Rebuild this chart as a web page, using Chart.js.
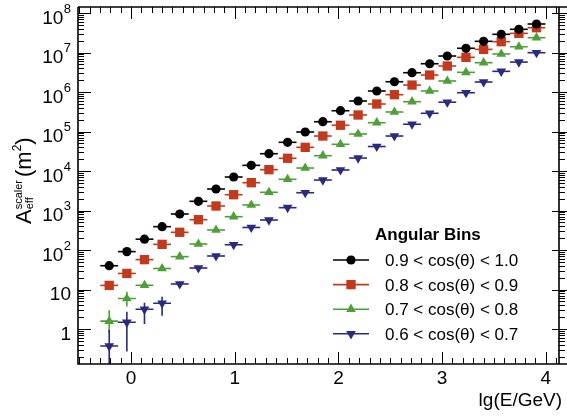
<!DOCTYPE html>
<html>
<head>
<meta charset="utf-8">
<script src="https://cdn.jsdelivr.net/npm/chart.js@4.4.1/dist/chart.umd.min.js"></script>
<style>
  html, body { margin: 0; padding: 0; background: #fff; }
  #wrap { width: 567px; height: 417px; }
</style>
</head>
<body>
<div id="wrap"><canvas id="myChart" width="567" height="417"></canvas></div>
<script>
// bin centres in lg(E/GeV)
const lgE = [-0.21, -0.04, 0.13, 0.30, 0.47, 0.65, 0.82, 0.99, 1.16, 1.33, 1.51, 1.68, 1.85,
  2.02, 2.19, 2.37, 2.54, 2.71, 2.88, 3.05, 3.23, 3.40, 3.57, 3.74, 3.91];
const binHalfWidth = 0.086;

// effective area (m^2) per angular bin
const bin1Vals = [40, 91, 188, 390, 815, 1710, 3500, 7050, 13900, 27400, 53300, 97100, 177000,
  336000, 592000, 1.06e6, 1.82e6, 3.08e6, 5.2e6, 8.15e6, 1.28e7, 1.92e7, 2.89e7, 3.87e7, 5.27e7];
const bin2Vals = [12.7, 25.5, 57, 139, 281, 585, 1300, 2510, 5060, 10800, 21000, 39800, 76900,
  144000, 262000, 497000, 855000, 1.5e6, 2.69e6, 4.55e6, 7.55e6, 1.2e7, 1.88e7, 3.06e7, 4.25e7];
const bin3Vals = [1.58, 5.9, 12.8, 34, 68, 142, 321, 697, 1380, 2890, 6170, 11900, 24400,
  47400, 86500, 167000, 312000, 568000, 1.06e6, 1.9e6, 3.15e6, 5.52e6, 9.17e6, 1.4e7, 2.37e7];
const bin4Vals = [0.37, 1.48, 3.15, 4.5, 13.8, 35, 70.5, 136, 372, 574, 1180, 2820, 5910,
  10600, 21300, 41700, 76900, 153000, 289000, 552000, 960000, 1.79e6, 3.34e6, 5.74e6, 9.89e6];

// vertical error bars (only visible at low energy)
const bin3ErrLow = [0.8, 3.7];
const bin3ErrHigh = [3.0, 8.8];
const bin4ErrLow = [0.05, 0.27, 1.34, 2.17];
const bin4ErrHigh = [0.94, 2.74, 4.6, 6.6];

const binLabels = ["0.9 < cos(\u03b8) < 1.0", "0.8 < cos(\u03b8) < 0.9",
  "0.7 < cos(\u03b8) < 0.8", "0.6 < cos(\u03b8) < 0.7"];
const legendTitle = "Angular Bins";

const xTickValues = [0, 1, 2, 3, 4];
const yTickExps = [0, 1, 2, 3, 4, 5, 6, 7, 8];

const FONT = "'Liberation Sans', Arial, Helvetica, sans-serif";

const series = [
  { vals: bin1Vals, color: "#000000", style: "circle", radius: 4.6, rotation: 0, lo: [], hi: [] },
  { vals: bin2Vals, color: "#c23a1e", style: "rect", radius: 6.6, rotation: 0, lo: [], hi: [] },
  { vals: bin3Vals, color: "#4f9e3a", style: "triangle", radius: 5.6, rotation: 0, lo: bin3ErrLow, hi: bin3ErrHigh },
  { vals: bin4Vals, color: "#2b2a7c", style: "triangle", radius: 5.6, rotation: 180, lo: bin4ErrLow, hi: bin4ErrHigh },
];

const errorBars = {
  id: "errorBars",
  beforeDatasetsDraw(chart) {
    const { ctx, chartArea: a, scales: { x, y } } = chart;
    ctx.save();
    ctx.beginPath();
    ctx.rect(a.left, a.top, a.right - a.left, a.bottom - a.top);
    ctx.clip();
    ctx.lineWidth = 1.6;
    series.forEach((s) => {
      ctx.strokeStyle = s.color;
      s.vals.forEach((v, j) => {
        const py = y.getPixelForValue(v);
        const px = x.getPixelForValue(lgE[j]);
        ctx.beginPath();
        ctx.moveTo(x.getPixelForValue(lgE[j] - binHalfWidth), py);
        ctx.lineTo(x.getPixelForValue(lgE[j] + binHalfWidth), py);
        if (s.lo[j] != null) {
          ctx.moveTo(px, y.getPixelForValue(s.lo[j]));
          ctx.lineTo(px, y.getPixelForValue(s.hi[j]));
        }
        ctx.stroke();
      });
    });
    ctx.restore();
  },
};

const frame = {
  id: "frame",
  afterDatasetsDraw(chart) {
    const { ctx, chartArea: a, scales: { x, y } } = chart;
    ctx.save();
    ctx.strokeStyle = "#000";
    ctx.fillStyle = "#000";

    // box
    ctx.lineWidth = 1.6;
    ctx.beginPath();
    ctx.moveTo(a.left, a.top);
    ctx.lineTo(a.left, a.bottom);
    ctx.lineTo(567, a.bottom);
    ctx.moveTo(a.left, a.top);
    ctx.lineTo(567, a.top);
    ctx.moveTo(a.right, a.top);
    ctx.lineTo(a.right, a.bottom);
    ctx.stroke();

    // x ticks (bottom and top, inside)
    ctx.lineWidth = 1;
    ctx.beginPath();
    for (let i = -5; i <= 45; i++) {
      const v = i / 10;
      const px = Math.round(x.getPixelForValue(v)) + 0.5;
      if (px < a.left || px > 567) continue;
      const len = i % 10 === 0 ? 12 : 6;
      ctx.moveTo(px, a.bottom);
      ctx.lineTo(px, a.bottom - len);
      ctx.moveTo(px, a.top);
      ctx.lineTo(px, a.top + len);
    }
    // y ticks (left inside, right outside)
    for (let e = -1; e <= 8; e++) {
      for (let m = 1; m <= 9; m++) {
        const v = m * Math.pow(10, e);
        const py = Math.round(y.getPixelForValue(v)) + 0.5;
        if (py < a.top || py > a.bottom) continue;
        const len = m === 1 ? 13 : 6;
        ctx.moveTo(a.left, py);
        ctx.lineTo(a.left + len, py);
        if (m === 1) {
          ctx.moveTo(a.right - 7, py);
          ctx.lineTo(567, py);
        } else {
          ctx.moveTo(a.right, py);
          ctx.lineTo(a.right + len, py);
        }
      }
    }
    ctx.stroke();

    // x tick labels
    ctx.font = "19px " + FONT;
    ctx.textAlign = "center";
    ctx.textBaseline = "alphabetic";
    xTickValues.forEach((v) => {
      ctx.fillText(String(v), x.getPixelForValue(v), a.bottom + 19.5);
    });

    // y tick labels
    const right = a.left - 7;
    yTickExps.forEach((e) => {
      const py = y.getPixelForValue(Math.pow(10, e));
      ctx.textAlign = "right";
      if (e < 2) {
        ctx.font = "19px " + FONT;
        ctx.fillText(e === 0 ? "1" : "10", right, py + 10.5);
      } else {
        ctx.font = "13px " + FONT;
        const sup = String(e);
        const w = ctx.measureText(sup).width;
        ctx.fillText(sup, right, py - 0.5);
        ctx.font = "19px " + FONT;
        ctx.fillText("10", right - w - 0.5, py + 10.5);
      }
    });

    // x title
    ctx.font = "19px " + FONT;
    ctx.textAlign = "right";
    ctx.fillText("lg(E/GeV)", 562, 406);

    // y title, rotated
    ctx.translate(31, 224);
    ctx.rotate(-Math.PI / 2);
    ctx.textAlign = "left";
    let cx = 0;
    ctx.font = "22px " + FONT;
    ctx.fillText("A", cx, 0);
    cx += ctx.measureText("A").width;
    ctx.font = "11px " + FONT;
    ctx.fillText("eff", cx, 2);
    ctx.fillText("scaler", cx, -9.5);
    cx += ctx.measureText("scaler").width + 3;
    ctx.font = "22px " + FONT;
    ctx.fillText("(m", cx, 0);
    cx += ctx.measureText("(m").width;
    ctx.font = "12px " + FONT;
    ctx.fillText("2", cx, -10);
    cx += ctx.measureText("2").width;
    ctx.font = "22px " + FONT;
    ctx.fillText(")", cx, 0);
    ctx.restore();
  },
  afterDraw(chart) {
    const ctx = chart.ctx;
    ctx.save();
    ctx.fillStyle = "#000";
    ctx.font = "bold 17px " + FONT;
    ctx.textAlign = "left";
    ctx.textBaseline = "alphabetic";
    ctx.fillText(legendTitle, 375, 240);
    ctx.font = "17px " + FONT;
    series.forEach((s, i) => {
      const ry = 260 + i * 24.6;
      ctx.strokeStyle = s.color;
      ctx.fillStyle = s.color;
      ctx.lineWidth = 1.6;
      ctx.beginPath();
      ctx.moveTo(333, ry);
      ctx.lineTo(369, ry);
      ctx.stroke();
      Chart.helpers.drawPoint(ctx, { pointStyle: s.style, radius: s.radius, rotation: s.rotation, borderWidth: 0 }, 351, ry);
      ctx.fillStyle = "#000";
      ctx.fillText(binLabels[i], 385, ry + 6);
    });
    ctx.restore();
  },
};

const data = {
  datasets: series.map((s, i) => ({
    label: binLabels[i],
    data: s.vals.map((v, j) => ({ x: lgE[j], y: v })),
    pointStyle: s.style,
    pointRadius: s.radius,
    pointRotation: s.rotation,
    backgroundColor: s.color,
    borderColor: s.color,
    borderWidth: 0,
    showLine: false,
  })),
};

const config = {
  type: "scatter",
  data: data,
  options: {
    responsive: false,
    animation: false,
    layout: { padding: { left: 78, right: 8, top: 7, bottom: 53 } },
    plugins: {
      legend: { display: false },
      tooltip: { enabled: false },
    },
    scales: {
      x: { type: "linear", display: false, min: -0.511, max: 4.127 },
      y: { type: "logarithmic", display: false, min: 0.13, max: 1.42e8 },
    },
  },
  plugins: [errorBars, frame],
};

new Chart(document.getElementById("myChart"), config);
</script>
</body>
</html>
